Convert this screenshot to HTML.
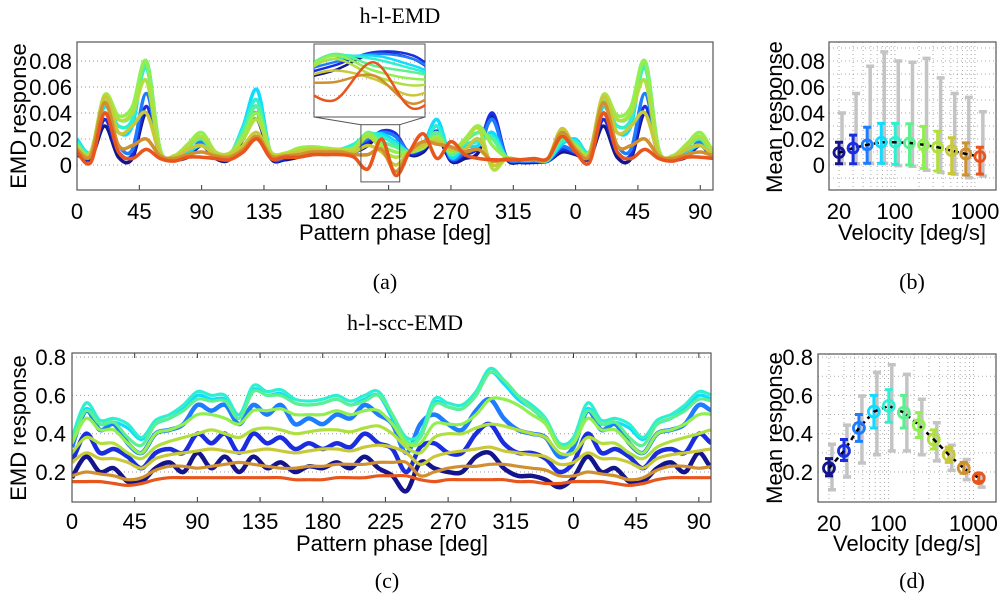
<!DOCTYPE html>
<html><head><meta charset="utf-8">
<style>
html,body{margin:0;padding:0;background:#fff;}
svg{display:block;font-family:"Liberation Sans",sans-serif;}
.tk{font-size:22px;fill:#000;}
.lab{font-size:22px;fill:#000;}
.ser{font-family:"Liberation Serif",serif;font-size:22px;fill:#000;}
</style></head>
<body>
<svg id="fig" width="1000" height="602" viewBox="0 0 1000 602">
<defs>
<clipPath id="clipA"><rect x="77" y="42" width="636" height="148"/></clipPath>
<clipPath id="clipC"><rect x="72" y="353" width="639" height="149"/></clipPath>
<clipPath id="clipI"><rect x="314" y="44" width="111" height="73"/></clipPath>
</defs>
<text class="ser" x="400" y="23" text-anchor="middle">h-l-EMD</text>
<text class="ser" x="405" y="330" text-anchor="middle">h-l-scc-EMD</text>
<text class="ser" x="385" y="289" text-anchor="middle">(a)</text>
<text class="ser" x="912" y="289" text-anchor="middle">(b)</text>
<text class="ser" x="387" y="588" text-anchor="middle">(c)</text>
<text class="ser" x="912" y="588" text-anchor="middle">(d)</text>
<text class="lab" transform="translate(26,116) rotate(-90)" text-anchor="middle">EMD response</text>
<text class="lab" transform="translate(26,428) rotate(-90)" text-anchor="middle">EMD response</text>
<text class="lab" transform="translate(782,117) rotate(-90)" text-anchor="middle">Mean response</text>
<text class="lab" transform="translate(782,428) rotate(-90)" text-anchor="middle">Mean response</text>
<text class="lab" x="395" y="240" text-anchor="middle">Pattern phase [deg]</text>
<text class="lab" x="392" y="551" text-anchor="middle">Pattern phase [deg]</text>
<text class="lab" x="912" y="240" text-anchor="middle">Velocity [deg/s]</text>
<text class="lab" x="907" y="551" text-anchor="middle">Velocity [deg/s]</text>
</svg>
<script>
const colors = ["#14148c","#1a2ee0","#1e7cff","#10dcff","#2ef0d0","#5cf090","#90f050","#b0e040","#c8c838","#d09030","#e8561e"];
const phaseTicks = [0,45,90,135,180,225,270,315,0,45,90];
// Panel (a) series, thousandths, phase 0..350 step 10
const a1 = [8,5,30,6,5,40,8,4,6,15,5,4,20,35,5,4,6,8,9,10,10,15,25,22,8,10,22,3,5,10,38,5,2,2,3,10];
const a2 = [9,6,35,10,8,45,9,4,7,18,6,5,22,40,6,5,7,9,10,10,12,18,26,24,9,12,26,4,8,14,40,6,3,3,3,12];
const a3 = [10,7,40,15,12,55,10,5,8,18,7,6,25,45,7,6,8,10,10,11,14,20,25,22,10,14,30,5,10,15,35,6,3,3,3,14];
const a4 = [20,10,45,25,30,80,12,6,10,15,8,7,30,58,8,8,10,12,12,12,16,22,24,18,10,16,35,6,14,15,25,6,4,4,4,16];
const a5 = [18,10,48,30,35,75,12,6,12,15,8,7,28,50,8,8,10,12,12,12,16,24,22,16,10,15,30,8,16,18,22,6,4,4,4,18];
const a6 = [16,10,52,35,40,78,12,6,14,20,8,8,25,45,10,8,12,13,12,12,14,25,18,14,10,14,25,8,18,25,20,6,4,4,4,20];
const a7 = [15,10,54,38,45,80,12,7,16,25,10,9,22,40,10,9,13,14,13,12,13,24,15,10,10,13,22,10,20,30,15,6,4,4,5,22];
const a8 = [14,10,54,35,40,65,10,7,15,22,10,9,20,35,10,9,12,13,12,12,12,22,12,6,10,14,20,12,18,28,-3,5,4,4,5,25];
const a9 = [13,9,52,25,30,40,9,6,12,15,8,8,15,25,8,8,10,12,11,11,10,15,10,0,10,15,18,12,12,20,0,5,4,4,5,28];
const a10 = [12,7,48,15,15,20,7,5,8,10,7,6,12,22,7,7,8,10,10,10,8,8,12,-5,10,18,16,14,10,12,3,5,4,4,5,25];
const a11 = [10,2,40,10,5,12,5,3,6,6,5,4,10,20,5,6,6,8,8,8,6,-3,20,-8,10,24,5,18,8,5,4,4,4,5,5,22];
const aTicks = [0,0.02,0.04,0.06,0.08];
// Panel (c) series, phase 0..350 step 10
const c1 = [0.17,0.28,0.20,0.22,0.15,0.15,0.22,0.25,0.20,0.30,0.22,0.28,0.20,0.28,0.22,0.25,0.20,0.23,0.22,0.25,0.22,0.28,0.22,0.18,0.10,0.25,0.22,0.20,0.20,0.28,0.30,0.22,0.18,0.18,0.16,0.12];
const c2 = [0.25,0.40,0.30,0.32,0.28,0.22,0.30,0.32,0.30,0.40,0.35,0.40,0.30,0.40,0.35,0.38,0.32,0.35,0.32,0.35,0.33,0.40,0.35,0.32,0.20,0.33,0.35,0.30,0.30,0.40,0.45,0.35,0.30,0.30,0.27,0.20];
const c3 = [0.33,0.52,0.42,0.45,0.35,0.30,0.40,0.42,0.45,0.55,0.52,0.55,0.45,0.55,0.50,0.55,0.45,0.48,0.45,0.50,0.48,0.55,0.50,0.45,0.30,0.45,0.50,0.45,0.42,0.52,0.58,0.48,0.42,0.40,0.38,0.28];
const c4 = [0.37,0.53,0.45,0.46,0.43,0.37,0.45,0.48,0.53,0.60,0.58,0.58,0.48,0.63,0.60,0.61,0.56,0.55,0.56,0.58,0.55,0.58,0.60,0.48,0.36,0.38,0.56,0.54,0.53,0.60,0.72,0.66,0.58,0.53,0.46,0.33];
const c5 = [0.38,0.56,0.47,0.48,0.45,0.38,0.47,0.50,0.55,0.62,0.60,0.60,0.50,0.65,0.62,0.63,0.58,0.57,0.58,0.60,0.57,0.60,0.62,0.50,0.38,0.40,0.58,0.56,0.55,0.62,0.74,0.68,0.60,0.55,0.48,0.35];
const c6 = [0.36,0.52,0.45,0.46,0.38,0.34,0.45,0.48,0.52,0.58,0.57,0.57,0.48,0.62,0.60,0.60,0.56,0.55,0.56,0.58,0.55,0.57,0.60,0.50,0.36,0.38,0.55,0.54,0.53,0.60,0.72,0.68,0.60,0.53,0.47,0.34];
const c7 = [0.35,0.48,0.42,0.42,0.35,0.30,0.40,0.42,0.45,0.50,0.50,0.48,0.45,0.52,0.52,0.53,0.50,0.50,0.50,0.52,0.50,0.52,0.52,0.45,0.35,0.35,0.45,0.45,0.45,0.50,0.58,0.58,0.55,0.50,0.45,0.33];
const c8 = [0.30,0.38,0.35,0.35,0.30,0.27,0.33,0.36,0.38,0.40,0.42,0.40,0.38,0.42,0.43,0.42,0.40,0.41,0.42,0.42,0.41,0.43,0.44,0.40,0.33,0.30,0.38,0.40,0.40,0.43,0.45,0.44,0.42,0.40,0.38,0.30];
const c9 = [0.25,0.30,0.27,0.27,0.25,0.22,0.27,0.29,0.30,0.31,0.32,0.31,0.30,0.31,0.32,0.31,0.30,0.31,0.32,0.32,0.31,0.33,0.34,0.33,0.30,0.24,0.28,0.30,0.31,0.32,0.33,0.31,0.30,0.29,0.28,0.24];
const c10 = [0.18,0.20,0.19,0.18,0.16,0.17,0.21,0.23,0.23,0.22,0.23,0.24,0.25,0.24,0.23,0.22,0.22,0.23,0.23,0.24,0.24,0.24,0.25,0.25,0.25,0.18,0.20,0.22,0.23,0.23,0.24,0.24,0.23,0.22,0.21,0.18];
const c11 = [0.15,0.15,0.15,0.14,0.13,0.14,0.16,0.17,0.17,0.17,0.17,0.17,0.17,0.17,0.17,0.17,0.16,0.16,0.16,0.17,0.17,0.17,0.18,0.18,0.18,0.16,0.15,0.16,0.16,0.16,0.16,0.16,0.15,0.15,0.14,0.14];
const cTicks = [0.2,0.4,0.6,0.8];
// Panels (b),(d)
const velocities = [20,30,45,67.5,101,152,228,342,513,769,1153];
const bMean = [0.0095,0.013,0.0155,0.0175,0.0175,0.017,0.0155,0.0137,0.011,0.0085,0.0065];
const bLo = [0.001,0.001,0.0013,0.0013,0.0005,0,-0.0026,-0.0046,-0.0065,-0.0077,-0.007];
const bHi = [0.0175,0.023,0.029,0.032,0.032,0.0317,0.0297,0.026,0.021,0.017,0.0137];
const bGreyLo = [0.001,0.001,0.0013,0.0013,-0.0005,-0.001,-0.004,-0.0057,-0.007,-0.0098,-0.0085];
const bGreyHi = [0.04,0.055,0.076,0.087,0.08,0.079,0.082,0.067,0.055,0.052,0.041];
const dMean = [0.22,0.31,0.43,0.515,0.545,0.51,0.445,0.37,0.29,0.22,0.168];
const dLo = [0.18,0.26,0.36,0.43,0.46,0.43,0.38,0.32,0.25,0.195,0.15];
const dHi = [0.27,0.37,0.50,0.60,0.63,0.60,0.51,0.42,0.33,0.25,0.19];
const dGreyLo = [0.107,0.174,0.247,0.29,0.31,0.31,0.29,0.258,0.209,0.16,0.121];
const dGreyHi = [0.345,0.445,0.597,0.72,0.76,0.71,0.58,0.457,0.34,0.265,0.174];
const bTicks = [0,0.02,0.04,0.06,0.08];
const dTicks = [0.2,0.4,0.6,0.8];
const velTicks = [20,100,1000];

const NS = "http://www.w3.org/2000/svg";
const svg = document.getElementById('fig');
function mk(tag, attrs, parent){const e=document.createElementNS(NS,tag);for(const k in attrs)e.setAttribute(k,attrs[k]);(parent||svg).appendChild(e);return e;}
function crPath(pts){let d="M"+pts[0][0].toFixed(1)+","+pts[0][1].toFixed(1);for(let i=0;i<pts.length-1;i++){const p0=pts[Math.max(0,i-1)],p1=pts[i],p2=pts[i+1],p3=pts[Math.min(pts.length-1,i+2)];const c1x=p1[0]+(p2[0]-p0[0])/6,c1y=p1[1]+(p2[1]-p0[1])/6,c2x=p2[0]-(p3[0]-p1[0])/6,c2y=p2[1]-(p3[1]-p1[1])/6;d+=" C"+c1x.toFixed(1)+","+c1y.toFixed(1)+" "+c2x.toFixed(1)+","+c2y.toFixed(1)+" "+p2[0].toFixed(1)+","+p2[1].toFixed(1);}return d;}

const xA = p => 77 + p*1.385;
const yA = v => 165 - v*1300;
const xC = p => 72 + p*1.393;
const yC = v => 472 - (v-0.2)*191.5;
const xB = v => 839 + 80*Math.log10(v/20);
const xD = v => 829 + 85*Math.log10(v/20);
const xI = p => 314 + (p-205)*(111/28);
const yI = v => 44 + (0.031-v)*(73/0.044);

function seriesPts(arr, scale, xf, yf){const pts=[];for(let p=0;p<=470;p+=10){pts.push([xf(p),yf(arr[(p/10)%36]*scale)]);}return pts;}

// ---- Panel A ----
const gA = mk('g',{});


aTicks.forEach(t=>{
  const g=mk('line',{x1:77,x2:713,y1:yA(t),y2:yA(t),stroke:"#999","stroke-dasharray":"1,3","stroke-width":1},gA);
  
  
  const tx=mk('text',{x:72,y:yA(t)+8,class:"tk","text-anchor":"end"},gA);tx.textContent=String(t);
  
  
});
const aSeries=[a1,a2,a3,a4,a5,a6,a7,a8,a9,a10,a11];
const gAl=mk('g',{"clip-path":"url(#clipA)"},gA);
aSeries.forEach((s,i)=>{
  const pth=mk('path',{d:crPath(seriesPts(s,0.001,xA,yA)),fill:"none",stroke:colors[i],"stroke-width":3.5,"stroke-linejoin":"round"},gAl);
  
  
});
phaseTicks.forEach((t,i)=>{
  const p=i<8?t:360+t;
  const tx=mk('text',{x:xA(p),y:219,class:"tk","text-anchor":"middle"},gA);tx.textContent=String(t);
  
  
  mk('line',{x1:xA(p),x2:xA(p),y1:190,y2:185,stroke:"#333"},gA);
});
const boxA=mk('rect',{x:77,y:42,width:636,height:148,fill:"none",stroke:"#555","stroke-width":1.2},gA);


const zr=mk('rect',{x:xA(205),y:yA(0.031),width:xA(233)-xA(205),height:yA(-0.013)-yA(0.031),fill:"none",stroke:"#555"},gA);


mk('line',{x1:314,y1:117,x2:xA(205),y2:yA(0.031),stroke:"#555"},gA);
mk('line',{x1:425,y1:117,x2:xA(233),y2:yA(0.031),stroke:"#555"},gA);
const ins=mk('rect',{x:314,y:44,width:111,height:73,fill:"#fff",stroke:"#555"},gA);


[0,0.01,0.02].forEach(t=>mk('line',{x1:314,x2:425,y1:yI(t),y2:yI(t),stroke:"#aaa","stroke-dasharray":"1,3"},gA));
const gI=mk('g',{"clip-path":"url(#clipI)"},gA);
aSeries.forEach((s,i)=>{
  const pth=mk('path',{d:crPath(seriesPts(s,0.001,xI,yI)),fill:"none",stroke:colors[i],"stroke-width":2.5},gI);
  
  
});

// ---- Panel C ----
const gC=mk('g',{});


cTicks.forEach(t=>{
  mk('line',{x1:72,x2:711,y1:yC(t),y2:yC(t),stroke:"#999","stroke-dasharray":"1,3"},gC);
  const tx=mk('text',{x:66,y:yC(t)+8,class:"tk","text-anchor":"end"},gC);tx.textContent=String(t);
  
  
});
const cSeries=[c1,c2,c3,c4,c5,c6,c7,c8,c9,c10,c11];
const gCl=mk('g',{"clip-path":"url(#clipC)"},gC);
cSeries.forEach((s,i)=>{
  const pth=mk('path',{d:crPath(seriesPts(s,1,xC,yC)),fill:"none",stroke:colors[i],"stroke-width":i<3?4.5:3.2,"stroke-linejoin":"round"},gCl);
  
  
});
phaseTicks.forEach((t,i)=>{
  const p=i<8?t:360+t;
  const tx=mk('text',{x:xC(p),y:529,class:"tk","text-anchor":"middle"},gC);tx.textContent=String(t);
  
  
  mk('line',{x1:xC(p),x2:xC(p),y1:502,y2:497,stroke:"#333"},gC);
  mk('line',{x1:xC(p),x2:xC(p),y1:353,y2:358,stroke:"#333"},gC);
});
const boxC=mk('rect',{x:72,y:353,width:639,height:149,fill:"none",stroke:"#555","stroke-width":1.2},gC);



// ---- Velocity panels ----
function velPanel(name,box,xf,yf,ticks,gridYs,mean,lo,hi,glo,ghi,tickX,r){
  const g=mk('g',{});
  
  
  gridYs.forEach(t=>mk('line',{x1:box[0],x2:box[1],y1:yf(t),y2:yf(t),stroke:"#aaa","stroke-dasharray":"1,3"},g));
  [20,30,40,50,60,70,80,90,100,200,300,400,500,600,700,800,900,1000].forEach(v=>{const x=xf(v);if(x>box[0]&&x<box[1])mk('line',{x1:x,x2:x,y1:box[2],y2:box[3],stroke:"#aaa","stroke-dasharray":"1,3"},g);});
  ticks.forEach(t=>{const tx=mk('text',{x:tickX,y:yf(t)+8,class:"tk","text-anchor":"end"},g);tx.textContent=String(t);
    
    });
  velTicks.forEach(v=>{const tx=mk('text',{x:xf(v),y:box[3]+29,class:"tk","text-anchor":"middle"},g);tx.textContent=String(v);
    
    });
  velocities.forEach((v,i)=>{const x=xf(v)+3;
    const e=mk('path',{d:`M${x},${yf(glo[i])}V${yf(ghi[i])}M${x-4},${yf(glo[i])}h8M${x-4},${yf(ghi[i])}h8`,stroke:"#c4c4c4","stroke-width":3.5,fill:"none"},g);
    
    });
  velocities.forEach((v,i)=>{const x=xf(v);
    const e=mk('path',{d:`M${x},${yf(lo[i])}V${yf(hi[i])}M${x-4},${yf(lo[i])}h8M${x-4},${yf(hi[i])}h8`,stroke:colors[i],"stroke-width":3,fill:"none"},g);
    
    });
  const ml=mk('path',{d:velocities.map((v,i)=>(i?"L":"M")+xf(v).toFixed(1)+","+yf(mean[i]).toFixed(1)).join(""),stroke:"#000","stroke-width":2.5,"stroke-dasharray":"5,4",fill:"none"},g);
  
  
  velocities.forEach((v,i)=>{const c=mk('circle',{cx:xf(v),cy:yf(mean[i]),r:r,fill:"none",stroke:colors[i],"stroke-width":2.8},g);
    
    });
  const b=mk('rect',{x:box[0],y:box[2],width:box[1]-box[0],height:box[3]-box[2],fill:"none",stroke:"#555","stroke-width":1.2},g);
  
  
}
velPanel('panel-b',[829,996,42,190],xB,yA,bTicks,[-0.01,0,0.01,0.02,0.03,0.04,0.05,0.06,0.07,0.08,0.09],bMean,bLo,bHi,bGreyLo,bGreyHi,825,5);
velPanel('panel-d',[818,996,354,502],xD,yC,dTicks,[0.2,0.3,0.4,0.5,0.6,0.7,0.8],dMean,dLo,dHi,dGreyLo,dGreyHi,813,5.5);
</script>
</body></html>
